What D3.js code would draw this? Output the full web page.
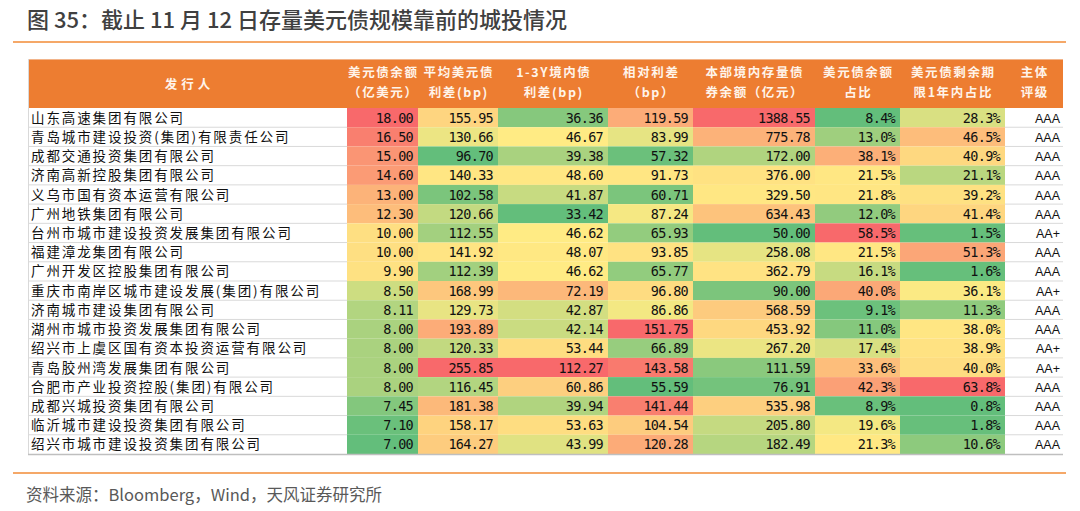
<!DOCTYPE html>
<html><head><meta charset="utf-8">
<script src="https://cdn.jsdelivr.net/npm/d3@7"></script>
<style>
html,body{margin:0;padding:0;background:#fff;}
svg{display:block;}
</style></head>
<body><svg id="chart" width="1080" height="511"></svg>
<script>
const issuers = ["山东高速集团有限公司","青岛城市建设投资(集团)有限责任公司","成都交通投资集团有限公司","济南高新控股集团有限公司","义乌市国有资本运营有限公司","广州地铁集团有限公司","台州市城市建设投资发展集团有限公司","福建漳龙集团有限公司","广州开发区控股集团有限公司","重庆市南岸区城市建设发展(集团)有限公司","济南城市建设集团有限公司","湖州市城市投资发展集团有限公司","绍兴市上虞区国有资本投资运营有限公司","青岛胶州湾发展集团有限公司","合肥市产业投资控股(集团)有限公司","成都兴城投资集团有限公司","临沂城市建设投资集团有限公司","绍兴市城市建设投资集团有限公司"];
const usdOutstanding = [18.00,16.50,15.00,14.60,13.00,12.30,10.00,10.00,9.90,8.50,8.11,8.00,8.00,8.00,8.00,7.45,7.10,7.00];
const avgUsdSpread = [155.95,130.66,96.70,140.33,102.58,120.66,112.55,141.92,112.39,168.99,129.73,193.89,120.33,255.85,116.45,181.38,158.17,164.27];
const onshoreSpread = [36.36,46.67,39.38,48.60,41.87,33.42,46.62,48.07,46.62,72.19,42.87,42.14,53.44,112.27,60.86,39.94,53.63,43.99];
const relativeSpread = [119.59,83.99,57.32,91.73,60.71,87.24,65.93,93.85,65.77,96.80,86.86,151.75,66.89,143.58,55.59,141.44,104.54,120.28];
const onshoreBalance = [1388.55,775.78,172.00,376.00,329.50,634.43,50.00,258.08,362.79,90.00,568.59,453.92,267.20,111.59,76.91,535.98,205.80,182.49];
const usdShare = [8.4,13.0,38.1,21.5,21.8,12.0,58.5,21.5,16.1,40.0,9.1,11.0,17.4,33.6,42.3,8.9,19.6,21.3];
const within1YShare = [28.3,46.5,40.9,21.1,39.2,41.4,1.5,51.3,1.6,36.1,11.3,38.0,38.9,40.0,63.8,0.8,1.8,10.6];
const ratings = ["AAA","AAA","AAA","AAA","AAA","AAA","AA+","AAA","AAA","AA+","AAA","AAA","AA+","AA+","AAA","AAA","AAA","AAA"];
const headerLines = [["发行人"],["美元债余额","（亿美元）"],["平均美元债","利差(bp)"],["1-3Y境内债","利差(bp)"],["相对利差","（bp）"],["本部境内存量债","券余额（亿元）"],["美元债余额","占比"],["美元债剩余期","限1年内占比"],["主体","评级"]];
const title = "图 35：截止 11 月 12 日存量美元债规模靠前的城投情况";
const source = "资料来源：Bloomberg，Wind，天风证券研究所";

const numCols = [
  {values: usdOutstanding, fmt: d => d.toFixed(2)},
  {values: avgUsdSpread, fmt: d => d.toFixed(2)},
  {values: onshoreSpread, fmt: d => d.toFixed(2)},
  {values: relativeSpread, fmt: d => d.toFixed(2)},
  {values: onshoreBalance, fmt: d => d.toFixed(2)},
  {values: usdShare, fmt: d => d.toFixed(1) + "%"},
  {values: within1YShare, fmt: d => d.toFixed(1) + "%"}
];

// layout
const colEdges = [28, 347, 418, 498, 608, 693, 815, 900, 1005, 1063];
const headerTop = 59, headerBottom = 108, tableBottom = 454;
const svg = d3.select("#chart");
const cjk = "'Noto Sans CJK SC','Noto Sans',sans-serif";

svg.append("text").attr("x", 27).attr("y", 28).text(title)
  .attr("font-family", cjk).attr("font-size", 22).attr("font-weight", 500).attr("fill", "#404040");
svg.append("line").attr("x1", 13).attr("x2", 1066).attr("y1", 42).attr("y2", 42)
  .attr("stroke", "#F5A868").attr("stroke-width", 2);

const y = d3.scaleBand().domain(d3.range(issuers.length)).range([headerBottom, tableBottom]);

// header
svg.append("rect").attr("x", colEdges[0]).attr("y", headerTop).attr("width", colEdges[9]-colEdges[0]).attr("height", headerBottom-headerTop).attr("fill", "#ED7D31");
svg.append("line").attr("x1", colEdges[0]).attr("x2", colEdges[9]).attr("y1", headerTop+0.5).attr("y2", headerTop+0.5).attr("stroke", "#F2B48A").attr("stroke-width", 1);
headerLines.forEach((lines, i) => {
  const cx = (colEdges[i] + colEdges[i+1]) / 2;
  const mid = (headerTop + headerBottom) / 2;
  lines.forEach((t, j) => {
    const yy = lines.length === 1 ? mid + 5 : mid - 7 + j * 20;
    svg.append("text").attr("x", cx + (i===0?2:0.8)).attr("y", yy).attr("text-anchor", "middle").text(t)
      .attr("font-family", cjk).attr("font-size", 12.5).attr("font-weight", 700)
      .attr("letter-spacing", i === 0 ? 4 : 1.6).attr("fill", "#FFF4EA");
  });
});

// name column
const g = svg.append("g");
issuers.forEach((name, r) => {
  g.append("rect").attr("x", colEdges[0]).attr("y", y(r)).attr("width", colEdges[1]-colEdges[0]).attr("height", y.bandwidth()).attr("fill", "#fff");
  g.append("text").attr("x", colEdges[0] + 3).attr("y", y(r) + y.bandwidth()/2 + 5).text(name)
    .attr("font-family", cjk).attr("font-size", 13.5).attr("letter-spacing", 1.9).attr("fill", "#111");
});

// numeric heat columns
numCols.forEach((col, c) => {
  const vals = col.values;
  const color = d3.scaleLinear()
    .domain([d3.min(vals), d3.median(vals), d3.max(vals)])
    .range(["#63BE7B", "#FFEB84", "#F8696B"])
    .interpolate(d3.interpolateRgb);
  const x0 = colEdges[c+1], x1 = colEdges[c+2];
  vals.forEach((v, r) => {
    g.append("rect").attr("x", x0).attr("y", y(r)).attr("width", x1 - x0).attr("height", y.bandwidth()).attr("fill", color(v));
    g.append("text").attr("x", x1 - 5).attr("y", y(r) + y.bandwidth()/2 + 5).attr("text-anchor", "end")
      .text(col.fmt(v)).attr("font-family", "'DejaVu Sans Mono','Liberation Mono',monospace").attr("font-size", 13.5).attr("letter-spacing", -0.7).attr("fill", "#111");
  });
});

// rating column
ratings.forEach((t, r) => {
  g.append("rect").attr("x", colEdges[8]).attr("y", y(r)).attr("width", colEdges[9]-colEdges[8]).attr("height", y.bandwidth()).attr("fill", "#fff");
  g.append("text").attr("x", colEdges[9] - 3).attr("y", y(r) + y.bandwidth()/2 + 5).attr("text-anchor", "end")
    .text(t).attr("font-family", "'Liberation Sans',Arial,sans-serif").attr("font-size", 12.5).attr("fill", "#111");
});

// grid lines in white columns
d3.range(1, issuers.length).forEach(r => {
  [[colEdges[0], colEdges[1]], [colEdges[8], colEdges[9]]].forEach(([a, b]) => {
    g.append("line").attr("x1", a).attr("x2", b).attr("y1", y(r)).attr("y2", y(r)).attr("stroke", "#D9D9D9").attr("stroke-width", 1);
  });
});
g.append("line").attr("x1", colEdges[0]+0.5).attr("x2", colEdges[0]+0.5).attr("y1", headerTop).attr("y2", tableBottom).attr("stroke", "#D9D9D9");
g.append("line").attr("x1", colEdges[0]).attr("x2", colEdges[9]).attr("y1", tableBottom+0.5).attr("y2", tableBottom+0.5).attr("stroke", "#BFBFBF").attr("stroke-width", 1.5);

// footer
svg.append("line").attr("x1", 13).attr("x2", 1066).attr("y1", 473).attr("y2", 473)
  .attr("stroke", "#F5A868").attr("stroke-width", 2);
svg.append("text").attr("x", 26).attr("y", 501).text(source)
  .attr("font-family", cjk).attr("font-size", 16.5).attr("fill", "#595959");
</script></body></html>
